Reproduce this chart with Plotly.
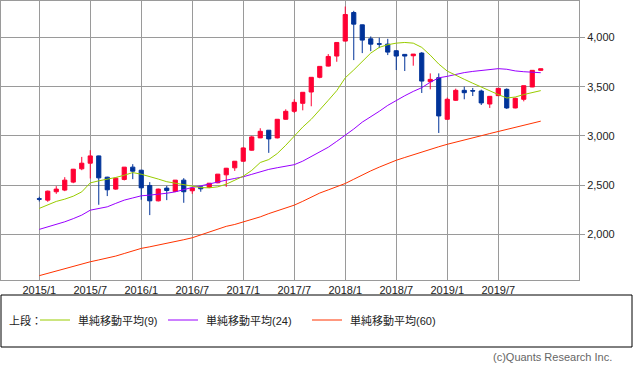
import plotly.graph_objects as go

months = list(range(60))
tick_vals = [0, 6, 12, 18, 24, 30, 36, 42, 48, 54]
tick_text = ["2015/1", "2015/7", "2016/1", "2016/7", "2017/1", "2017/7",
             "2018/1", "2018/7", "2019/1", "2019/7"]

open_ = [2362, 2348, 2433, 2450, 2531, 2666, 2723, 2797, 2581, 2460,
         2558, 2683, 2652, 2497, 2341, 2470, 2436, 2551, 2443, 2483,
         2477, 2524, 2605, 2676, 2743, 2855, 2980, 3058, 2980, 3169,
         3250, 3331, 3446, 3595, 3709, 3811, 3963, 4253, 4128, 3986,
         3936, 3932, 3865, 3828, 3814, 3841, 3551, 3591, 3169, 3362,
         3463, 3460, 3456, 3324, 3409, 3473, 3284, 3372, 3497, 3666]
high = [2382, 2445, 2490, 2581, 2665, 2787, 2855, 2800, 2585, 2575,
        2683, 2713, 2655, 2531, 2465, 2493, 2551, 2571, 2475, 2486,
        2522, 2612, 2675, 2745, 2885, 3000, 3078, 3060, 3169, 3270,
        3372, 3443, 3595, 3706, 3831, 3949, 4314, 4270, 4130, 4010,
        3997, 3986, 3868, 3830, 3831, 3851, 3635, 3635, 3389, 3480,
        3500, 3487, 3470, 3402, 3483, 3483, 3389, 3510, 3666, 3682]
low = [2335, 2331, 2412, 2439, 2520, 2652, 2568, 2301, 2389, 2453,
       2548, 2561, 2352, 2196, 2335, 2348, 2430, 2321, 2412, 2433,
       2470, 2520, 2483, 2645, 2740, 2850, 2978, 2828, 2975, 3165,
       3233, 3260, 3301, 3585, 3705, 3753, 3960, 3770, 3841, 3861,
       3892, 3821, 3669, 3659, 3713, 3436, 3473, 3030, 3165, 3355,
       3372, 3405, 3314, 3284, 3405, 3274, 3280, 3351, 3495, 3662]
close = [2358, 2439, 2460, 2551, 2662, 2723, 2797, 2574, 2453, 2571,
         2683, 2642, 2473, 2341, 2460, 2446, 2551, 2433, 2470, 2463,
         2520, 2612, 2672, 2743, 2878, 2990, 3047, 2970, 3169, 3250,
         3341, 3443, 3595, 3706, 3807, 3949, 4233, 4135, 3973, 3932,
         3932, 3851, 3811, 3811, 3831, 3557, 3574, 3203, 3372, 3463,
         3439, 3456, 3335, 3402, 3483, 3284, 3382, 3510, 3666, 3682]

ma9 = [2264, 2297, 2335, 2358, 2388, 2432, 2523, 2544, 2558, 2578,
       2601, 2628, 2611, 2590, 2562, 2535, 2520, 2512, 2495, 2475,
       2473, 2483, 2510, 2551, 2591, 2650, 2730, 2760, 2821, 2905,
       3000, 3090, 3169, 3260, 3361, 3460, 3590, 3670, 3757, 3841,
       3899, 3926, 3942, 3949, 3942, 3899, 3820, 3730, 3658, 3620,
       3575, 3535, 3495, 3455, 3420, 3385, 3395, 3420, 3440, 3460]
ma24 = [2051, 2075, 2100, 2128, 2160, 2196, 2246, 2262, 2280, 2315,
        2348, 2370, 2392, 2399, 2405, 2418, 2432, 2455, 2477, 2493,
        2514, 2532, 2551, 2568, 2585, 2610, 2637, 2660, 2677, 2692,
        2708, 2744, 2790, 2840, 2885, 2945, 3005, 3070, 3140, 3192,
        3250, 3310, 3361, 3408, 3452, 3490, 3545, 3590, 3605, 3625,
        3643, 3655, 3665, 3676, 3683, 3677, 3660, 3652, 3645, 3642]
ma60 = [1581, 1605, 1630, 1655, 1677, 1700, 1722, 1741, 1760, 1780,
        1806, 1832, 1858, 1874, 1891, 1906, 1926, 1946, 1966, 1995,
        2028, 2060, 2082, 2101, 2126, 2152, 2178, 2211, 2240, 2268,
        2297, 2336, 2380, 2420, 2452, 2485, 2517, 2560, 2605, 2645,
        2683, 2720, 2753, 2781, 2810, 2838, 2864, 2890, 2915, 2935,
        2957, 2979, 3002, 3024, 3046, 3068, 3088, 3108, 3129, 3150]

y_ticks = [2000, 2500, 3000, 3500, 4000]
y_text = ["2,000", "2,500", "3,000", "3,500", "4,000"]

legend_labels = ["単純移動平均(9)", "単純移動平均(24)", "単純移動平均(60)"]
legend_prefix = "上段："
copyright_text = "(c)Quants Research Inc."

RED = "#ff0033"
BLUE = "#003399"
C9 = "#99cc00"
C24 = "#9900ff"
C60 = "#ff3300"
FONT = "Liberation Sans, Noto Sans CJK JP, sans-serif"

fig = go.Figure()
fig.add_trace(go.Scatter(x=months, y=ma60, mode="lines",
                         line=dict(color=C60, width=1), showlegend=False, hoverinfo="skip"))
fig.add_trace(go.Scatter(x=months, y=ma24, mode="lines",
                         line=dict(color=C24, width=1), showlegend=False, hoverinfo="skip"))
fig.add_trace(go.Scatter(x=months, y=ma9, mode="lines",
                         line=dict(color=C9, width=1), showlegend=False, hoverinfo="skip"))
fig.add_trace(go.Candlestick(
    x=months, open=open_, high=high, low=low, close=close,
    increasing=dict(line=dict(color=RED, width=1), fillcolor=RED),
    decreasing=dict(line=dict(color=BLUE, width=1), fillcolor=BLUE),
    whiskerwidth=0, showlegend=False))

W, H = 633, 371
L, R, T, B = 1, 54, 1, 91
pw = W - L - R
ph = H - T - B


def px(x):
    return (x - L) / pw


def py(y):
    return (H - B - y) / ph


shapes = [dict(type="rect", xref="paper", yref="paper",
               x0=px(1), x1=px(632), y0=py(347), y1=py(295),
               line=dict(color="black", width=1), fillcolor="rgba(0,0,0,0)")]
annotations = [dict(xref="paper", yref="paper", x=px(7), y=py(320),
                    text=legend_prefix, showarrow=False, xanchor="left", yanchor="middle",
                    font=dict(size=11, color="#222", family=FONT))]
for (x0, x1, tx), col, lab in zip([(40, 70, 76), (168, 198, 204), (312, 342, 348)],
                                   [C9, C24, C60], legend_labels):
    shapes.append(dict(type="line", xref="paper", yref="paper",
                       x0=px(x0), x1=px(x1), y0=py(320), y1=py(320),
                       line=dict(color=col, width=1)))
    annotations.append(dict(xref="paper", yref="paper", x=px(tx), y=py(320),
                            text=lab, showarrow=False, xanchor="left", yanchor="middle",
                            font=dict(size=11, color="#222", family=FONT)))
annotations.append(dict(xref="paper", yref="paper", x=px(614), y=py(357),
                        text=copyright_text, showarrow=False, xanchor="right", yanchor="middle",
                        font=dict(size=11, color="#666", family=FONT)))

fig.update_layout(
    width=W, height=H,
    margin=dict(l=L, r=R, t=T, b=B),
    paper_bgcolor="white", plot_bgcolor="white",
    showlegend=False,
    font=dict(family=FONT, size=11, color="#222"),
    shapes=shapes, annotations=annotations,
    xaxis=dict(range=[-4.5, 63.5], tickvals=tick_vals, ticktext=tick_text,
               showgrid=True, gridcolor="#9a9a9a", gridwidth=1,
               showline=True, mirror=True, linecolor="#9a9a9a", linewidth=1,
               ticks="", zeroline=False, rangeslider=dict(visible=False),
               fixedrange=True, tickfont=dict(size=11, color="#222")),
    yaxis=dict(range=[1537, 4370], side="right", tickvals=y_ticks, ticktext=y_text,
               showgrid=True, gridcolor="#9a9a9a", gridwidth=1,
               showline=True, mirror=True, linecolor="#9a9a9a", linewidth=1,
               ticks="outside", ticklen=5, tickcolor="#9a9a9a", zeroline=False,
               fixedrange=True, tickfont=dict(size=11, color="#222")),
)

fig.write_html("out.html", config={"displayModeBar": False},
               post_script="document.body.style.margin='0';document.body.style.overflow='hidden';")
